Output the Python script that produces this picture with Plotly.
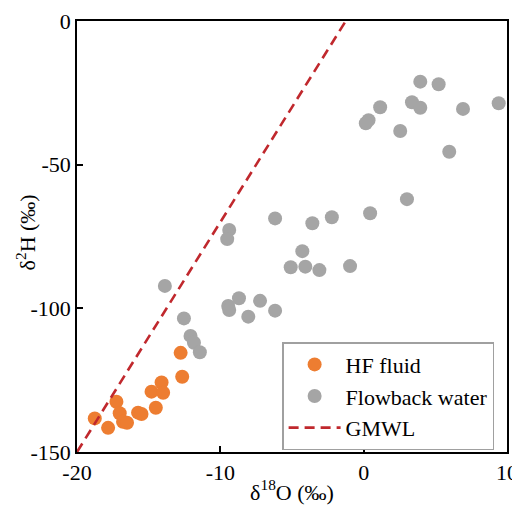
import plotly.graph_objects as go

hf_x = [-18.76, -17.83, -17.25, -17.02, -16.79, -16.51, -15.74, -15.50, -14.50,
        -14.80, -14.10, -13.99, -12.77, -12.66]
hf_y = [-138.3, -141.6, -132.5, -136.5, -139.5, -139.8, -136.3, -136.8, -134.6,
        -129.0, -125.8, -129.4, -115.5, -123.8]

fb_x = [-12.54, -12.08, -11.84, -11.43, -13.87, -9.38, -9.52, -6.18, -3.58, -2.22,
        -4.28, -5.09, -4.07, -3.09, -9.45, -9.38, -8.70, -8.05, -7.23, -6.18,
        -0.95, 3.95, 5.23, 3.37, 3.95, 1.15, 0.34, 0.15, 2.55, 6.93, 9.42, 5.97,
        3.02, 0.45]
fb_y = [-103.5, -109.6, -112.0, -115.3, -92.2, -72.7, -75.9, -68.7, -70.4, -68.3,
        -80.1, -85.7, -85.5, -86.7, -99.2, -100.6, -96.5, -102.9, -97.4, -100.8,
        -85.3, -21.1, -22.0, -28.3, -30.2, -30.0, -34.5, -35.6, -38.3, -30.6, -28.6,
        -45.5, -62.0, -66.9]

gmwl_slope = 8
gmwl_intercept = 10
gmwl_x = [-20, -1.25]
gmwl_y = [gmwl_slope * v + gmwl_intercept for v in gmwl_x]

x_ticks = [-20, -10, 0, 10]
x_tick_labels = ["-20", "-10", "0", "10"]
y_ticks = [-150, -100, -50, 0]
y_tick_labels = ["-150", "-100", "-50", "0"]

font = "Liberation Serif"

fig = go.Figure()
fig.add_trace(go.Scatter(x=hf_x, y=hf_y, mode="markers", name="HF fluid",
                         marker=dict(color="#ED7D31", size=14)))
fig.add_trace(go.Scatter(x=fb_x, y=fb_y, mode="markers", name="Flowback water",
                         marker=dict(color="#A5A5A5", size=14)))
fig.add_trace(go.Scatter(x=gmwl_x, y=gmwl_y, mode="lines", name="GMWL",
                         line=dict(color="#C0282D", width=2.6, dash="10px,6px")))

axis_common = dict(showgrid=False, zeroline=False, showline=True, linecolor="black",
                   linewidth=1.5, mirror=True, ticks="inside", ticklen=6,
                   tickwidth=1.5, tickcolor="black", automargin=False,
                   tickfont=dict(family=font, size=22, color="black"))

fig.update_xaxes(range=[-20, 10], tickvals=x_ticks, ticktext=x_tick_labels,
                 title=dict(text="δ<sup>18</sup>O (‰)", font=dict(family=font, size=22, color="black"), standoff=0),
                 **axis_common)
fig.update_yaxes(range=[-150, 0], tickvals=y_ticks, ticktext=y_tick_labels,
                 **axis_common)

fig.add_annotation(text="δ<sup>2</sup>H (‰)", xref="paper", yref="paper",
                   x=-0.118, y=0.51, xanchor="center", yanchor="middle",
                   textangle=-90, showarrow=False,
                   font=dict(family=font, size=22, color="black"))

fig.update_layout(
    width=512, height=509,
    margin=dict(l=69, r=13, t=13, b=65),
    plot_bgcolor="white", paper_bgcolor="white",
    font=dict(family=font, size=22, color="black"),
    legend=dict(x=0.477, y=0.255, xanchor="left", yanchor="top",
                bgcolor="white", bordercolor="#A0A0A0", borderwidth=1.5,
                font=dict(family=font, size=22, color="black"),
                itemwidth=52, tracegroupgap=0),
    showlegend=True,
)

fig.write_html("out.html")
